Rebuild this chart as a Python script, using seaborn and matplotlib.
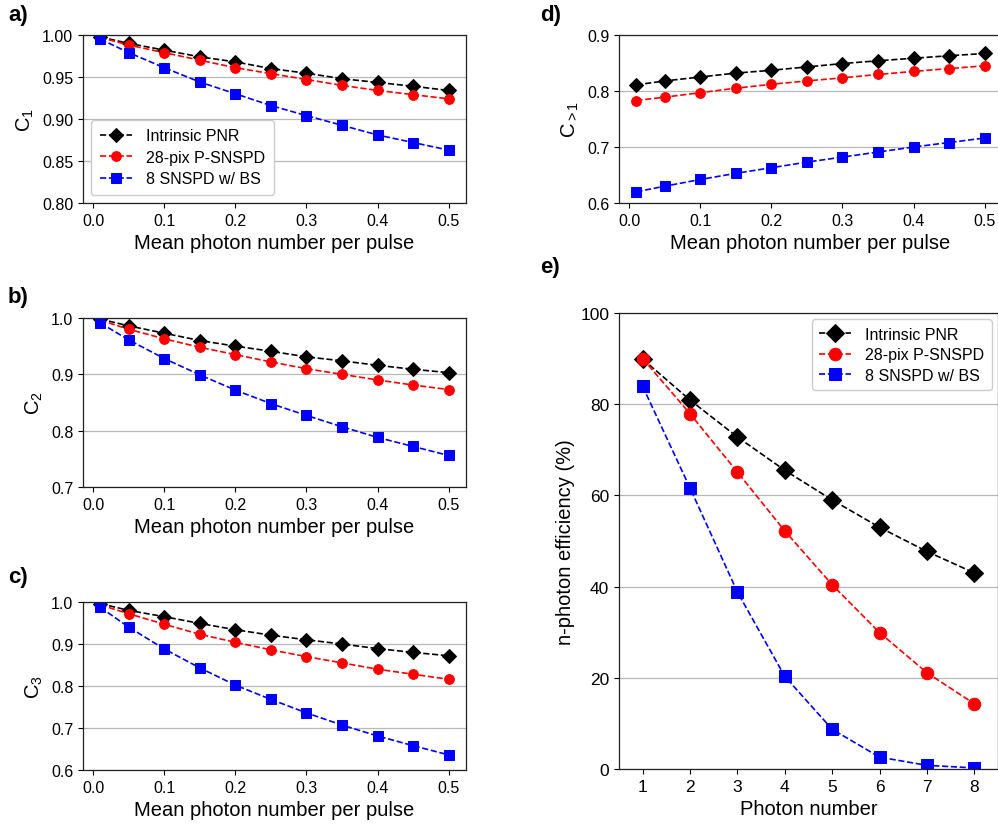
import numpy as np
import pandas as pd
import seaborn as sns
import matplotlib
matplotlib.use("Agg")
import matplotlib.pyplot as plt

sns.set_style("white")
plt.rcParams['font.family'] = ['Liberation Sans', 'DejaVu Sans']
plt.rcParams['mathtext.fontset'] = 'custom'
plt.rcParams['mathtext.rm'] = 'Liberation Sans'
plt.rcParams['mathtext.it'] = 'Liberation Sans:italic'
plt.rcParams['mathtext.bf'] = 'Liberation Sans:bold'
for k in ['text.color', 'axes.labelcolor', 'xtick.color', 'ytick.color']:
    plt.rcParams[k] = 'black'

# ---------------- data ----------------
mu = [0.01, 0.05, 0.1, 0.15, 0.2, 0.25, 0.3, 0.35, 0.4, 0.45, 0.5]
series_names = ["Intrinsic PNR", "28-pix P-SNSPD", "8 SNSPD w/ BS"]

c1_pnr = [0.9976, 0.990, 0.982, 0.974, 0.968, 0.960, 0.9545, 0.948, 0.9435, 0.939, 0.934]
c1_psnspd = [0.997, 0.988, 0.979, 0.970, 0.961, 0.954, 0.947, 0.940, 0.934, 0.929, 0.924]
c1_bs = [0.995, 0.979, 0.961, 0.944, 0.930, 0.916, 0.904, 0.8925, 0.881, 0.872, 0.863]

c2_pnr = [0.998, 0.986, 0.973, 0.960, 0.950, 0.941, 0.931, 0.924, 0.916, 0.909, 0.903]
c2_psnspd = [0.996, 0.980, 0.963, 0.948, 0.935, 0.922, 0.910, 0.900, 0.890, 0.881, 0.873]
c2_bs = [0.991, 0.961, 0.928, 0.899, 0.872, 0.848, 0.827, 0.807, 0.788, 0.772, 0.756]

c3_pnr = [0.996, 0.980, 0.965, 0.949, 0.934, 0.921, 0.910, 0.900, 0.889, 0.880, 0.872]
c3_psnspd = [0.993, 0.972, 0.947, 0.923, 0.904, 0.886, 0.870, 0.855, 0.840, 0.828, 0.816]
c3_bs = [0.987, 0.940, 0.888, 0.843, 0.802, 0.768, 0.736, 0.707, 0.681, 0.658, 0.636]

cg1_pnr = [0.811, 0.818, 0.825, 0.832, 0.837, 0.843, 0.849, 0.854, 0.8585, 0.863, 0.867]
cg1_psnspd = [0.783, 0.789, 0.797, 0.805, 0.812, 0.818, 0.8235, 0.8295, 0.835, 0.840, 0.845]
cg1_bs = [0.620, 0.630, 0.642, 0.653, 0.663, 0.673, 0.682, 0.691, 0.700, 0.708, 0.716]

photon_number = [1, 2, 3, 4, 5, 6, 7, 8]
eff_pnr = [89.9, 80.9, 72.8, 65.5, 59.0, 53.0, 47.7, 43.0]
eff_psnspd = [90.0, 77.9, 65.1, 52.2, 40.4, 29.9, 21.1, 14.3]
eff_bs = [83.9, 61.6, 38.8, 20.3, 8.7, 2.6, 0.8, 0.24]

colors = ["black", "red", "blue"]
markers = ["D", "o", "s"]

fig = plt.figure(figsize=(9.98, 8.29), dpi=100)

W = 383 / 998
def ax_at(left, top, bottom, width=W):
    return fig.add_axes([left / 998, 1 - bottom / 829, width, (bottom - top) / 829])

ax_a = ax_at(83, 36, 204)
ax_b = ax_at(83, 319, 488)
ax_c = ax_at(83, 603, 771)
ax_d = ax_at(619, 36, 204)
ax_e = ax_at(619, 314, 770, width=379 / 998)

def draw(ax, x, ys, ms):
    for y, name, c, m in zip(ys, series_names, colors, markers):
        df = pd.DataFrame({"x": x, "y": y})
        sns.lineplot(data=df, x="x", y="y", ax=ax, color=c, marker=m,
                     linestyle="--", linewidth=1.2, markersize=ms,
                     markeredgecolor=c, label=name, legend=False)

def style(ax, ylim, yticks, ylabel, xlabel, fmt):
    ax.set_ylim(*ylim)
    ax.set_yticks(yticks)
    ax.set_yticklabels([fmt.format(v) for v in yticks])
    ax.yaxis.grid(True, color="#b8b8b8", linewidth=0.9)
    ax.xaxis.grid(False)
    ax.set_axisbelow(True)
    ax.set_ylabel(ylabel, fontsize=14.5)
    ax.set_xlabel(xlabel, fontsize=14.5)
    ax.tick_params(axis="both", labelsize=11.5, direction="out", length=3.5,
                   width=0.8, color="black", left=True, bottom=True)
    for s in ax.spines.values():
        s.set_color("#222222")
        s.set_linewidth(0.9)

xl = "Mean photon number per pulse"
draw(ax_a, mu, [c1_pnr, c1_psnspd, c1_bs], 7)
style(ax_a, (0.80, 1.00), [0.80, 0.85, 0.90, 0.95, 1.00], r"C$_\mathregular{1}$", xl, "{:.2f}")
draw(ax_b, mu, [c2_pnr, c2_psnspd, c2_bs], 7)
style(ax_b, (0.7, 1.0), [0.7, 0.8, 0.9, 1.0], r"C$_\mathregular{2}$", xl, "{:.1f}")
draw(ax_c, mu, [c3_pnr, c3_psnspd, c3_bs], 7)
style(ax_c, (0.6, 1.0), [0.6, 0.7, 0.8, 0.9, 1.0], r"C$_\mathregular{3}$", xl, "{:.1f}")
draw(ax_d, mu, [cg1_pnr, cg1_psnspd, cg1_bs], 7)
style(ax_d, (0.6, 0.9), [0.6, 0.7, 0.8, 0.9], r"C$_{{>}\mathregular{1}}$", xl, "{:.1f}")
draw(ax_e, photon_number, [eff_pnr, eff_psnspd, eff_bs], 9)
style(ax_e, (0, 100), [0, 20, 40, 60, 80, 100], "n-photon efficiency (%)", "Photon number", "{:.0f}")

xt = [0.0, 0.1, 0.2, 0.3, 0.4, 0.5]
for ax in (ax_a, ax_b, ax_c, ax_d):
    ax.set_xticks(xt)
    ax.set_xticklabels(["{:.1f}".format(v) for v in xt])
    ax.set_xlim(-0.0145, 0.5245)
ax_e.set_xlim(0.5, 8.5)
ax_e.set_xticks(photon_number)
ax_e.set_xticklabels([str(v) for v in photon_number])
ax_e.tick_params(axis="both", labelsize=12.5)

ax_a.legend(loc="lower left", fontsize=11.5, handlelength=2.0, borderpad=0.55,
            labelspacing=0.4, handletextpad=0.9, framealpha=1, edgecolor="#cccccc")
ax_e.legend(loc="upper right", fontsize=11.5, handlelength=2.0, borderpad=0.45,
            labelspacing=0.35, handletextpad=0.9, framealpha=1, edgecolor="#cccccc",
            borderaxespad=0.4)

for lbl, x, y in [("a)", 8, 15), ("b)", 8, 297), ("c)", 8, 578), ("d)", 540, 15), ("e)", 540, 268)]:
    fig.text(x / 998, 1 - y / 829, lbl, fontsize=16, fontweight="bold", va="center", ha="left")

fig.savefig("out.png", dpi=100)
